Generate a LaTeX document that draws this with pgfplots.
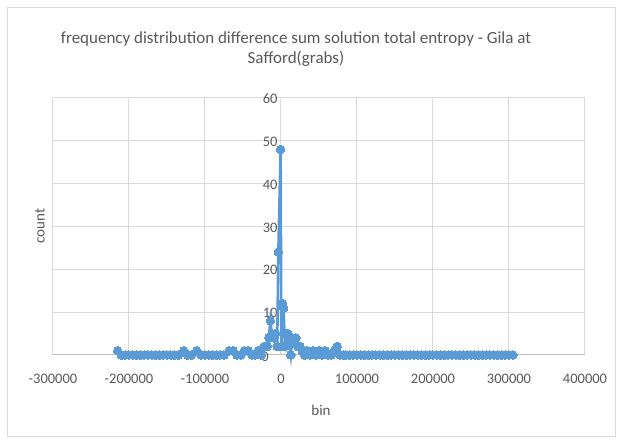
\documentclass[border=0pt]{standalone}
\usepackage{pgfplots}
\pgfplotsset{compat=1.18}
\usepackage{fontspec}
\setmainfont{Carlito}
\definecolor{xlblue}{HTML}{5B9BD5}
\definecolor{xlgrid}{HTML}{D9D9D9}
\definecolor{xlaxis}{HTML}{BFBFBF}
\definecolor{xltext}{HTML}{595959}
\begin{document}
\begin{tikzpicture}[x=1pt,y=1pt]
\path[use as bounding box] (0,0) rectangle (622,441);
\draw[xlgrid,line width=0.8pt] (7,5) rectangle (615,434);
\begin{axis}[
  at={(53pt,86pt)}, anchor=south west,
  scale only axis, width=532pt, height=257pt,
  xmin=-300000, xmax=400000, ymin=0, ymax=60,
  xtick={-300000,-200000,...,400000},
  ytick={10,20,...,60},
  scaled x ticks=false,
  /pgf/number format/assume math mode=true,
  xticklabel style={/pgf/number format/fixed,/pgf/number format/1000 sep={},font=\fontsize{14.5}{16}\selectfont,text=xltext,yshift=-16pt},
  yticklabel style={font=\fontsize{14.5}{16}\selectfont,text=xltext,xshift=228pt,yshift=-1pt},
  axis x line=bottom, axis y line=left,
  x axis line style={xlaxis,line width=1pt,-},
  y axis line style={draw=none},
  major tick length=0pt,
  grid=major, major grid style={xlgrid,line width=1pt},
  clip=false,
]
\addplot[xlblue, line width=2.6pt, mark=*, mark size=4.3pt, mark options={fill=xlblue,draw=xlblue,line width=0pt}] coordinates {
(-215000,1) (-210000,0) (-205000,0) (-200000,0) (-195000,0) (-190000,0) (-185000,0) (-180000,0) (-175000,0) (-170000,0) (-165000,0) (-160000,0) (-155000,0) (-150000,0) (-145000,0) (-140000,0) (-135000,0) (-128000,1) (-123000,0) (-118000,0) (-111000,1) (-105000,0) (-100000,0) (-95000,0) (-90000,0) (-85000,0) (-80000,0) (-75000,0) (-68000,1) (-63000,1) (-58000,0) (-53000,0) (-48000,1) (-43000,1) (-38000,0) (-34000,0) (-30000,1) (-26000,0) (-22000,2) (-18000,2) (-16000,4) (-14000,8) (-12000,5) (-9000,4) (-7000,5) (-5000,2) (-3500,24) (-500,48) (500,2) (2000,12) (3500,11) (5000,2) (6500,5) (9000,5) (11000,3) (13000,0) (15000,4) (17500,3) (19500,4) (22000,2) (25000,2) (28000,1) (31000,0) (34000,1) (38000,0) (42000,1) (46000,0) (50000,1) (54000,0) (58000,1) (62000,0) (66000,0) (70000,1) (74000,2) (78000,0) (82000,0) (85000,0)
(90000,0) (95000,0) (100000,0) (105000,0) (110000,0) (115000,0) (120000,0) (125000,0) (130000,0) (135000,0) (140000,0) (145000,0) (150000,0) (155000,0) (160000,0) (165000,0) (170000,0) (175000,0) (180000,0) (185000,0) (190000,0) (195000,0) (200000,0) (205000,0) (210000,0) (215000,0) (220000,0) (225000,0) (230000,0) (235000,0) (240000,0) (245000,0) (250000,0) (255000,0) (260000,0) (265000,0) (270000,0) (275000,0) (280000,0) (285000,0) (290000,0) (295000,0) (300000,0) (305000,0)
};
\node[anchor=east,font=\fontsize{14.5}{16}\selectfont,text=xltext,yshift=-2pt,inner sep=0pt,xshift=-12pt] at (axis cs:0,0) {0};
\end{axis}
\node[text=xltext,font=\fontsize{17}{20}\selectfont,align=center] at (296,392) {frequency distribution difference sum solution total entropy - Gila at\\Safford(grabs)};
\node[text=xltext,font=\fontsize{15}{18}\selectfont,rotate=90] at (40,215) {count};
\node[text=xltext,font=\fontsize{15}{18}\selectfont] at (321,31) {bin};
\end{tikzpicture}
\end{document}
